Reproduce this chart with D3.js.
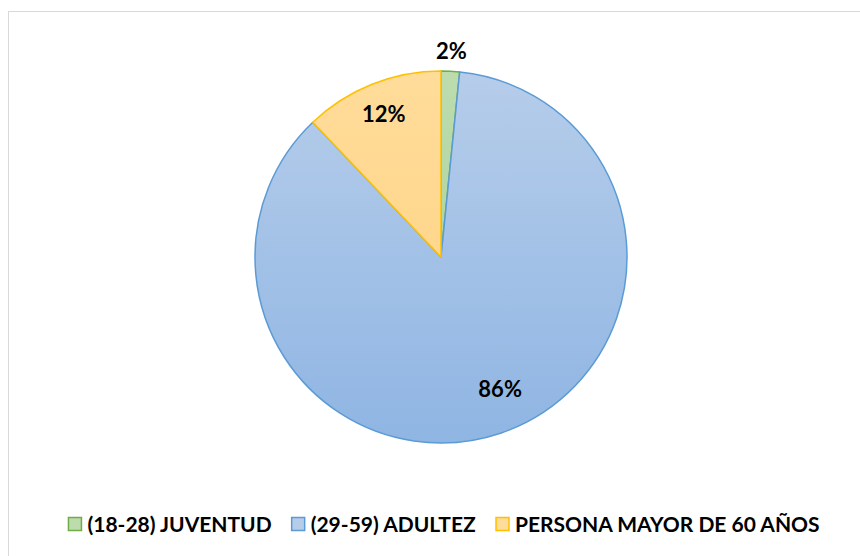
<!DOCTYPE html>
<html>
<head>
<meta charset="utf-8">
<script src="https://cdn.jsdelivr.net/npm/d3@7"></script>
<style>
  html, body { margin: 0; padding: 0; background: #ffffff; }
  svg { display: block; }
  text { font-family: Lato, "Open Sans", "Liberation Sans", sans-serif; font-weight: 700; fill: #000; }
</style>
</head>
<body>
<svg id="chart" width="860" height="556"></svg>
<script>
// Age groups and their share of the population surveyed (%)
const categories = ["(18-28) JUVENTUD", "(29-59) ADULTEZ", "PERSONA MAYOR DE 60 AÑOS"];
const values = [1.6, 86.3, 12.1];

// Series styling: outline, gradient top, gradient bottom
const strokeColors = ["#70ad47", "#5b9bd5", "#ffc000"];
const gradTop = ["#bcdcae", "#b6cdea", "#ffdc9a"];
const gradBottom = ["#a5cf92", "#8fb5e3", "#ffd27f"];

const width = 860, height = 556;
const cx = 441, cy = 257, radius = 186;

const svg = d3.select("#chart");

// chart frame
svg.append("rect")
  .attr("x", 8.5).attr("y", 11.5)
  .attr("width", 900).attr("height", 600)
  .attr("fill", "#fff")
  .attr("stroke", "#d9d9d9")
  .attr("stroke-width", 1);

const defs = svg.append("defs");
categories.forEach((c, i) => {
  const g = defs.append("linearGradient")
    .attr("id", "grad" + i)
    .attr("gradientUnits", "userSpaceOnUse")
    .attr("x1", 0).attr("y1", -radius)
    .attr("x2", 0).attr("y2", radius);
  g.append("stop").attr("offset", "0%").attr("stop-color", gradTop[i]);
  g.append("stop").attr("offset", "100%").attr("stop-color", gradBottom[i]);
});

const total = d3.sum(values);
const pie = d3.pie().sort(null).value(d => d);
const arcs = pie(values);
const arc = d3.arc().innerRadius(0).outerRadius(radius);

const g = svg.append("g").attr("transform", `translate(${cx},${cy})`);

g.selectAll("path.slice")
  .data(arcs)
  .join("path")
  .attr("class", "slice")
  .attr("d", arc)
  .attr("fill", (d, i) => `url(#grad${i})`)
  .attr("stroke", (d, i) => strokeColors[i])
  .attr("stroke-width", 1.5)
  .attr("stroke-linejoin", "round");

// percentage labels: small slices outside the pie, others inside
g.selectAll("text.pct")
  .data(arcs)
  .join("text")
  .attr("class", "pct")
  .attr("text-anchor", "middle")
  .attr("font-size", 22)
  .attr("dy", "0.36em")
  .attr("transform", d => {
    const share = d.data / total;
    const large = share > 0.5;
    const r = share < 0.05 ? radius * 1.11 : radius * (large ? 0.78 : 0.83);
    const a = (d.startAngle + d.endAngle) / 2 - (large ? 0.09 : 0);
    return `translate(${Math.sin(a) * r},${-Math.cos(a) * r})`;
  })
  .text(d => Math.round(d.data / total * 100) + "%");

// legend
const legend = svg.append("g");
const box = 13, gapBox = 6, gapItem = 20;
const items = legend.selectAll("g.item")
  .data(categories)
  .join("g")
  .attr("class", "item");
items.append("rect")
  .attr("width", box).attr("height", box)
  .attr("y", -box / 2)
  .attr("fill", (d, i) => gradTop[i])
  .attr("stroke", (d, i) => strokeColors[i])
  .attr("stroke-width", 1.5);
items.append("text")
  .attr("x", box + gapBox)
  .attr("dy", "0.36em")
  .attr("font-size", 21)
  .text(d => d);

let x = 0;
items.each(function () {
  const w = this.getBBox().width;
  d3.select(this).attr("transform", `translate(${x},0)`);
  x += w + gapItem;
});
const legendWidth = x - gapItem;
legend.attr("transform", `translate(${444 - legendWidth / 2},524)`);
</script>
</body>
</html>
